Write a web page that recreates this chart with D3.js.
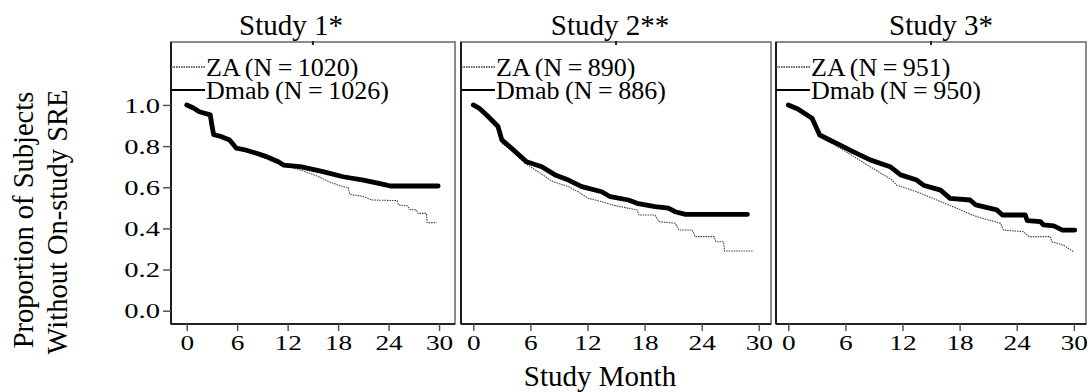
<!DOCTYPE html>
<html>
<head>
<meta charset="utf-8">
<script src="https://cdn.jsdelivr.net/npm/d3@7"></script>
<style>
  body { margin: 0; background: #fff; }
  svg { display: block; font-family: "Liberation Serif", "Times New Roman", serif; }
</style>
</head>
<body>
<svg id="chart" width="1088" height="392"></svg>
<script>
// Data
const studyTitles = ["Study 1*", "Study 2**", "Study 3*"];
const zaLabels = ["ZA (N = 1020)", "ZA (N = 890)", "ZA (N = 951)"];
const dmabLabels = ["Dmab (N = 1026)", "Dmab (N = 886)", "Dmab (N = 950)"];
const monthTicks = [0, 6, 12, 18, 24, 30];
const propTicks = [0.0, 0.2, 0.4, 0.6, 0.8, 1.0];

// [month, proportion without SRE]
const zaCurves = [
    [[0,1.0],[0.8,0.985],[1.5,0.965],[2.8,0.95],[3.0,0.90],[3.2,0.854],[4.0,0.845],[5.1,0.826],[5.9,0.787],[7.0,0.775],[8.7,0.752],[10.7,0.717],[13.5,0.684],[15.5,0.655],[17.0,0.625],[18.8,0.600],[19.2,0.600],[19.4,0.565],[21.0,0.555],[22.0,0.538],[25.0,0.535],[25.2,0.514],[26.3,0.509],[26.5,0.492],[27.3,0.490],[27.5,0.473],[28.5,0.473],[28.6,0.428],[29.7,0.428]],
    [[0,1.0],[0.6,0.985],[1.4,0.945],[2.6,0.885],[3.0,0.814],[4.0,0.78],[5.4,0.717],[7.0,0.67],[8.25,0.630],[10.0,0.603],[11.0,0.578],[12.1,0.546],[13.5,0.530],[14.6,0.514],[16.3,0.498],[17.2,0.490],[17.4,0.465],[19.1,0.465],[19.5,0.433],[21.2,0.425],[21.6,0.392],[23.0,0.392],[23.3,0.360],[25.3,0.360],[25.5,0.335],[26.3,0.335],[26.4,0.290],[29.4,0.290]],
    [[0,1.0],[1.0,0.98],[2.5,0.93],[3.3,0.846],[5.8,0.78],[8.6,0.70],[10.9,0.635],[11.4,0.61],[13.5,0.578],[15.6,0.538],[18.1,0.49],[19.8,0.457],[22.3,0.425],[22.6,0.392],[24.7,0.384],[25.3,0.36],[27.5,0.36],[27.7,0.335],[28.9,0.319],[30.0,0.286]]
];
const dmabCurves = [
    [[0,1.0],[0.8,0.985],[1.5,0.967],[2.8,0.952],[3.0,0.90],[3.2,0.856],[4.0,0.848],[5.1,0.830],[5.9,0.790],[7.0,0.781],[8.3,0.765],[9.5,0.749],[10.9,0.724],[11.5,0.708],[13.5,0.700],[16.2,0.676],[18.6,0.651],[21.0,0.635],[23.4,0.614],[24.2,0.606],[29.9,0.606]],
    [[0,1.0],[0.6,0.985],[1.4,0.951],[2.6,0.895],[3.0,0.83],[4.0,0.79],[5.6,0.724],[7.2,0.70],[8.6,0.66],[10.0,0.635],[11.4,0.603],[13.5,0.578],[14.4,0.554],[16.3,0.538],[17.2,0.522],[19.1,0.506],[20.5,0.498],[21.2,0.481],[22.3,0.468],[28.8,0.468]],
    [[0,1.0],[1.0,0.98],[2.5,0.935],[3.3,0.854],[5.4,0.806],[6.8,0.773],[8.6,0.733],[10.7,0.70],[11.8,0.66],[13.5,0.635],[14.2,0.61],[16.0,0.586],[17.0,0.546],[19.1,0.538],[19.7,0.514],[21.9,0.49],[22.5,0.465],[24.9,0.465],[25.1,0.438],[26.5,0.433],[26.8,0.417],[27.9,0.412],[28.8,0.392],[30.1,0.392]]
];

// Layout (pixels)
const plotTop = 42, plotBottom = 324;
const panels = [
    { left: 171, right: 455, titleX: 291, xDom: [-1.87, 31.9] },
    { left: 461, right: 771, titleX: 610, xDom: [-1.29, 31.28] },
    { left: 776, right: 1086, titleX: 941, xDom: [-1.29, 31.28] }
];
const stretch = 1.3; // tick labels look wide

const svg = d3.select("#chart");
svg.append("rect").attr("width", 1088).attr("height", 392).attr("fill", "#fff");

const y = d3.scaleLinear().domain([-0.0647, 1.306]).range([plotBottom, plotTop]);

panels.forEach((p, i) => {
    const x = d3.scaleLinear().domain(p.xDom).range([p.left, p.right]);
    const g = svg.append("g");

    // Box
    g.append("rect")
        .attr("x", p.left).attr("y", plotTop)
        .attr("width", p.right - p.left).attr("height", plotBottom - plotTop)
        .attr("fill", "none").attr("stroke", "#666").attr("stroke-width", 1.5);
    g.append("line").attr("x1", p.left).attr("x2", p.left).attr("y1", plotTop).attr("y2", plotBottom)
        .attr("stroke", "#000").attr("stroke-width", 1.6);
    g.append("line").attr("x1", p.left).attr("x2", p.right).attr("y1", plotBottom).attr("y2", plotBottom)
        .attr("stroke", "#000").attr("stroke-width", 1.6);
    // little mark on top edge
    g.append("line").attr("x1", x(15)).attr("x2", x(15)).attr("y1", plotTop - 1).attr("y2", plotTop + 3)
        .attr("stroke", "#222").attr("stroke-width", 2);

    // Title
    g.append("text")
        .attr("x", p.titleX).attr("y", 35)
        .attr("text-anchor", "middle")
        .attr("font-size", 29)
        .text(studyTitles[i]);

    // X axis
    const xAxis = g.append("g")
        .attr("transform", `translate(0,${plotBottom})`)
        .call(d3.axisBottom(x).tickValues(monthTicks).tickSize(7).tickPadding(4));
    xAxis.select(".domain").remove();
    xAxis.selectAll(".tick line").attr("stroke", "#555").attr("stroke-width", 1.5);
    xAxis.selectAll(".tick text")
        .attr("font-family", "Liberation Serif, serif")
        .attr("font-size", 21).attr("fill", "#000")
        .attr("transform", `scale(${stretch},1)`);

    // Y axis only on the first panel
    if (i === 0) {
        const yAxis = g.append("g")
            .attr("transform", `translate(${p.left},0)`)
            .call(d3.axisLeft(y).tickValues(propTicks).tickFormat(d3.format(".1f")).tickSize(8).tickPadding(2));
        yAxis.select(".domain").remove();
        yAxis.selectAll(".tick line").attr("stroke", "#555").attr("stroke-width", 1.5);
        yAxis.selectAll(".tick text")
            .attr("font-family", "Liberation Serif, serif")
            .attr("font-size", 22).attr("fill", "#000")
            .attr("x", -11 / stretch)
            .attr("transform", `scale(${stretch},1)`);
    }

    // Curves
    const line = d3.line().x(d => x(d[0])).y(d => y(d[1])).curve(d3.curveLinear);
    g.append("path")
        .attr("d", line(zaCurves[i]))
        .attr("fill", "none").attr("stroke", "#444")
        .attr("stroke-width", 1.1).attr("stroke-dasharray", "1.5,1");
    g.append("path")
        .attr("d", line(dmabCurves[i]))
        .attr("fill", "none").attr("stroke", "#000")
        .attr("stroke-width", 4.8).attr("stroke-linejoin", "round").attr("stroke-linecap", "round");

    // Legend
    g.append("line").attr("x1", p.left).attr("x2", p.left + 34).attr("y1", 67).attr("y2", 67)
        .attr("stroke", "#333").attr("stroke-width", 1.3).attr("stroke-dasharray", "1.5,1");
    g.append("line").attr("x1", p.left).attr("x2", p.left + 34).attr("y1", 90).attr("y2", 90)
        .attr("stroke", "#000").attr("stroke-width", 2.2);
    g.append("text").attr("x", p.left + 35).attr("y", 76)
        .attr("font-size", 26).attr("word-spacing", -1).text(zaLabels[i]);
    g.append("text").attr("x", p.left + 35).attr("y", 99)
        .attr("font-size", 26).attr("word-spacing", -1).text(dmabLabels[i]);
});

// Axis titles
svg.append("text")
    .attr("x", 600).attr("y", 386)
    .attr("text-anchor", "middle").attr("font-size", 29)
    .text("Study Month");
svg.append("text")
    .attr("transform", "translate(33,220) rotate(-90)")
    .attr("text-anchor", "middle").attr("font-size", 28.5)
    .text("Proportion of Subjects");
svg.append("text")
    .attr("transform", "translate(67,222) rotate(-90)")
    .attr("text-anchor", "middle").attr("font-size", 28.5)
    .text("Without On-study SRE");
</script>
</body>
</html>
